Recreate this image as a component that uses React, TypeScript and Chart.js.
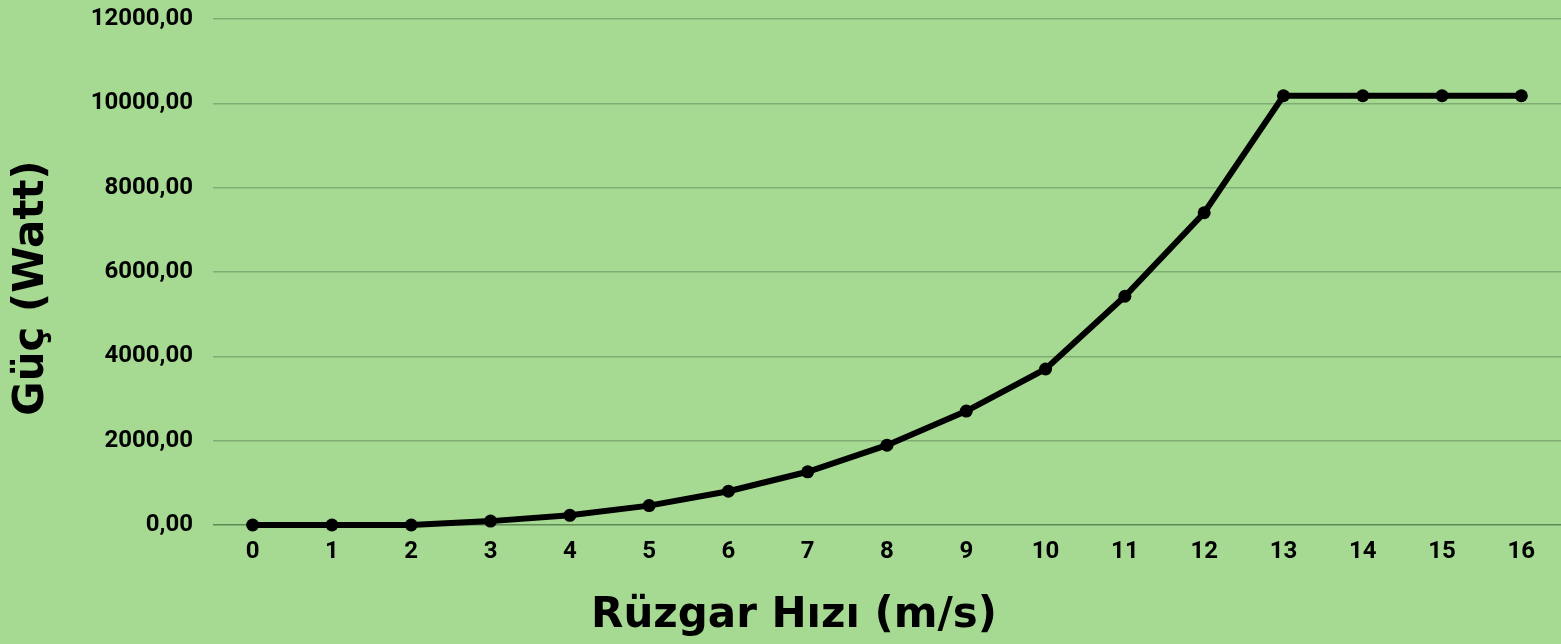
import React, { useEffect, useRef } from "react";
import { Chart, registerables } from "chart.js";

Chart.register(...registerables);

const windSpeeds = ["0", "1", "2", "3", "4", "5", "6", "7", "8", "9", "10", "11", "12", "13", "14", "15", "16"];
const powerWatt = [0, 0, 0, 92, 230, 460, 800, 1262, 1893, 2702, 3700, 5425, 7405, 10180, 10180, 10180, 10180];
const yMin = 0;
const yMax = 12000;
const yStep = 2000;
const xTitle = "Rüzgar Hızı (m/s)";
const yTitle = "Güç (Watt)";

const BG = "#a6da93";
const GRID = "#80ab72";
const ZERO = "#5f8a55";

const titlePlugin = {
  id: "axisTitles",
  afterDraw(chart: any) {
    const ctx = chart.ctx;
    ctx.save();
    ctx.fillStyle = "#000";
    ctx.font = 'bold 42px "DejaVu Sans"';
    ctx.textAlign = "center";
    ctx.textBaseline = "alphabetic";
    ctx.fillText(xTitle, 794, 627);
    ctx.translate(43, 288);
    ctx.rotate(-Math.PI / 2);
    ctx.fillText(yTitle, 0, 0);
    ctx.restore();
  },
};

const bgPlugin = {
  id: "bg",
  beforeDraw(chart: any) {
    const ctx = chart.ctx;
    ctx.save();
    ctx.fillStyle = BG;
    ctx.fillRect(0, 0, chart.width, chart.height);
    ctx.restore();
  },
};

export default function App() {
  const ref = useRef<HTMLCanvasElement>(null);
  useEffect(() => {
    if (!ref.current) return;
    const chart = new Chart(ref.current, {
      type: "line",
      data: {
        labels: windSpeeds,
        datasets: [
          {
            data: powerWatt,
            borderColor: "#000",
            backgroundColor: "#000",
            borderWidth: 6,
            pointRadius: 6.5,
            pointBackgroundColor: "#000",
            pointBorderWidth: 0,
            tension: 0,
            clip: false,
          },
        ],
      },
      options: {
        animation: false,
        responsive: false,
        devicePixelRatio: 1,
        layout: { autoPadding: false, padding: { top: 19, left: 0, right: 0, bottom: 0 } },
        plugins: { legend: { display: false }, tooltip: { enabled: false }, title: { display: false } },
        scales: {
          x: {
            offset: true,
            grid: { display: false, drawTicks: false },
            border: { display: false },
            ticks: { color: "#000", font: { family: "Roboto", weight: "bold", size: 24 }, padding: 13, maxRotation: 0 },
            afterFit: (s: any) => { s.height = 119; s.paddingLeft = 0; s.paddingRight = 0; },
          },
          y: {
            min: yMin,
            max: yMax,
            grid: {
              drawTicks: false,
              lineWidth: 1.5,
              color: (c: any) => (c.tick && c.tick.value === 0 ? ZERO : GRID),
            },
            border: { display: false },
            ticks: {
              stepSize: yStep,
              color: "#000",
              font: { family: "Roboto", weight: "bold", size: 24 },
              padding: 20,
              callback: (v: any) => Number(v).toFixed(2).replace(".", ","),
            },
            afterFit: (s: any) => { s.width = 213; s.paddingTop = 0; s.paddingBottom = 0; },
          },
        },
      },
      plugins: [bgPlugin, titlePlugin],
    } as any);
    return () => chart.destroy();
  }, []);
  return (
    <div style={{ position: "fixed", left: 0, top: 0, width: 1561, height: 644, background: BG }}>
      <canvas ref={ref} width={1561} height={644} style={{ display: "block" }} />
    </div>
  );
}
